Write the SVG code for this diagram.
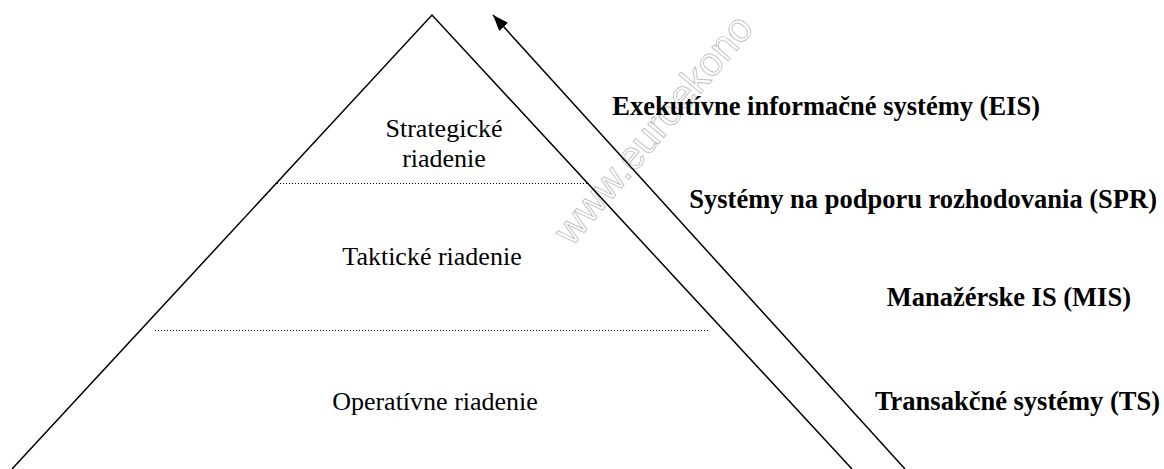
<svg xmlns="http://www.w3.org/2000/svg" width="1164" height="469" viewBox="0 0 1164 469">
<style>
.ln{stroke:#000;stroke-width:1.5;fill:none}
.dot{stroke:#000;stroke-width:1;stroke-dasharray:1 2;fill:none}
.lvl{font-family:"Liberation Serif","Times New Roman",serif;font-size:26px;fill:#000;text-anchor:middle}
.sys{font-family:"Liberation Serif","Times New Roman",serif;font-size:26.5px;font-weight:bold;fill:#000;text-anchor:end}
.wm{font-family:"Liberation Sans",Arial,sans-serif;font-size:40px;fill:none;stroke:#b0b0b0;stroke-width:0.7}
</style>
<defs>
<marker id="ah" markerUnits="userSpaceOnUse" markerWidth="17" markerHeight="12" refX="16" refY="6" orient="auto">
<path d="M0,0 L16,6 L0,12 z" fill="#000"/>
</marker>
</defs>
<rect width="1164" height="469" fill="#fff"/>
<text class="wm" transform="translate(572,247) rotate(-50)">www.euroekono</text>
<g id="levels">
<g id="strategic"><text class="lvl" x="444" y="137">Strategické</text><text class="lvl" x="444" y="167">riadenie</text></g>
<g id="tactical"><text class="lvl" x="432" y="265">Taktické riadenie</text></g>
<g id="operative"><text class="lvl" x="435" y="410">Operatívne riadenie</text></g>
</g>
<g id="systems">
<g id="eis"><text class="sys" x="1040" y="115">Exekutívne informačné systémy (EIS)</text></g>
<g id="spr"><text class="sys" x="1157" y="208">Systémy na podporu rozhodovania (SPR)</text></g>
<g id="mis"><text class="sys" x="1131" y="306">Manažérske IS (MIS)</text></g>
<g id="ts"><text class="sys" x="1160" y="410">Transakčné systémy (TS)</text></g>
</g>
<g id="pyramid">
<polyline class="ln" points="12,469 432,15 852,469"/>
<line class="dot" x1="277" y1="183.5" x2="588" y2="183.5"/>
<line class="dot" x1="155" y1="330.5" x2="708" y2="330.5"/>
</g>
<g id="connectors">
<line class="ln" x1="905" y1="469" x2="493" y2="15" marker-end="url(#ah)"/>
</g>
</svg>
